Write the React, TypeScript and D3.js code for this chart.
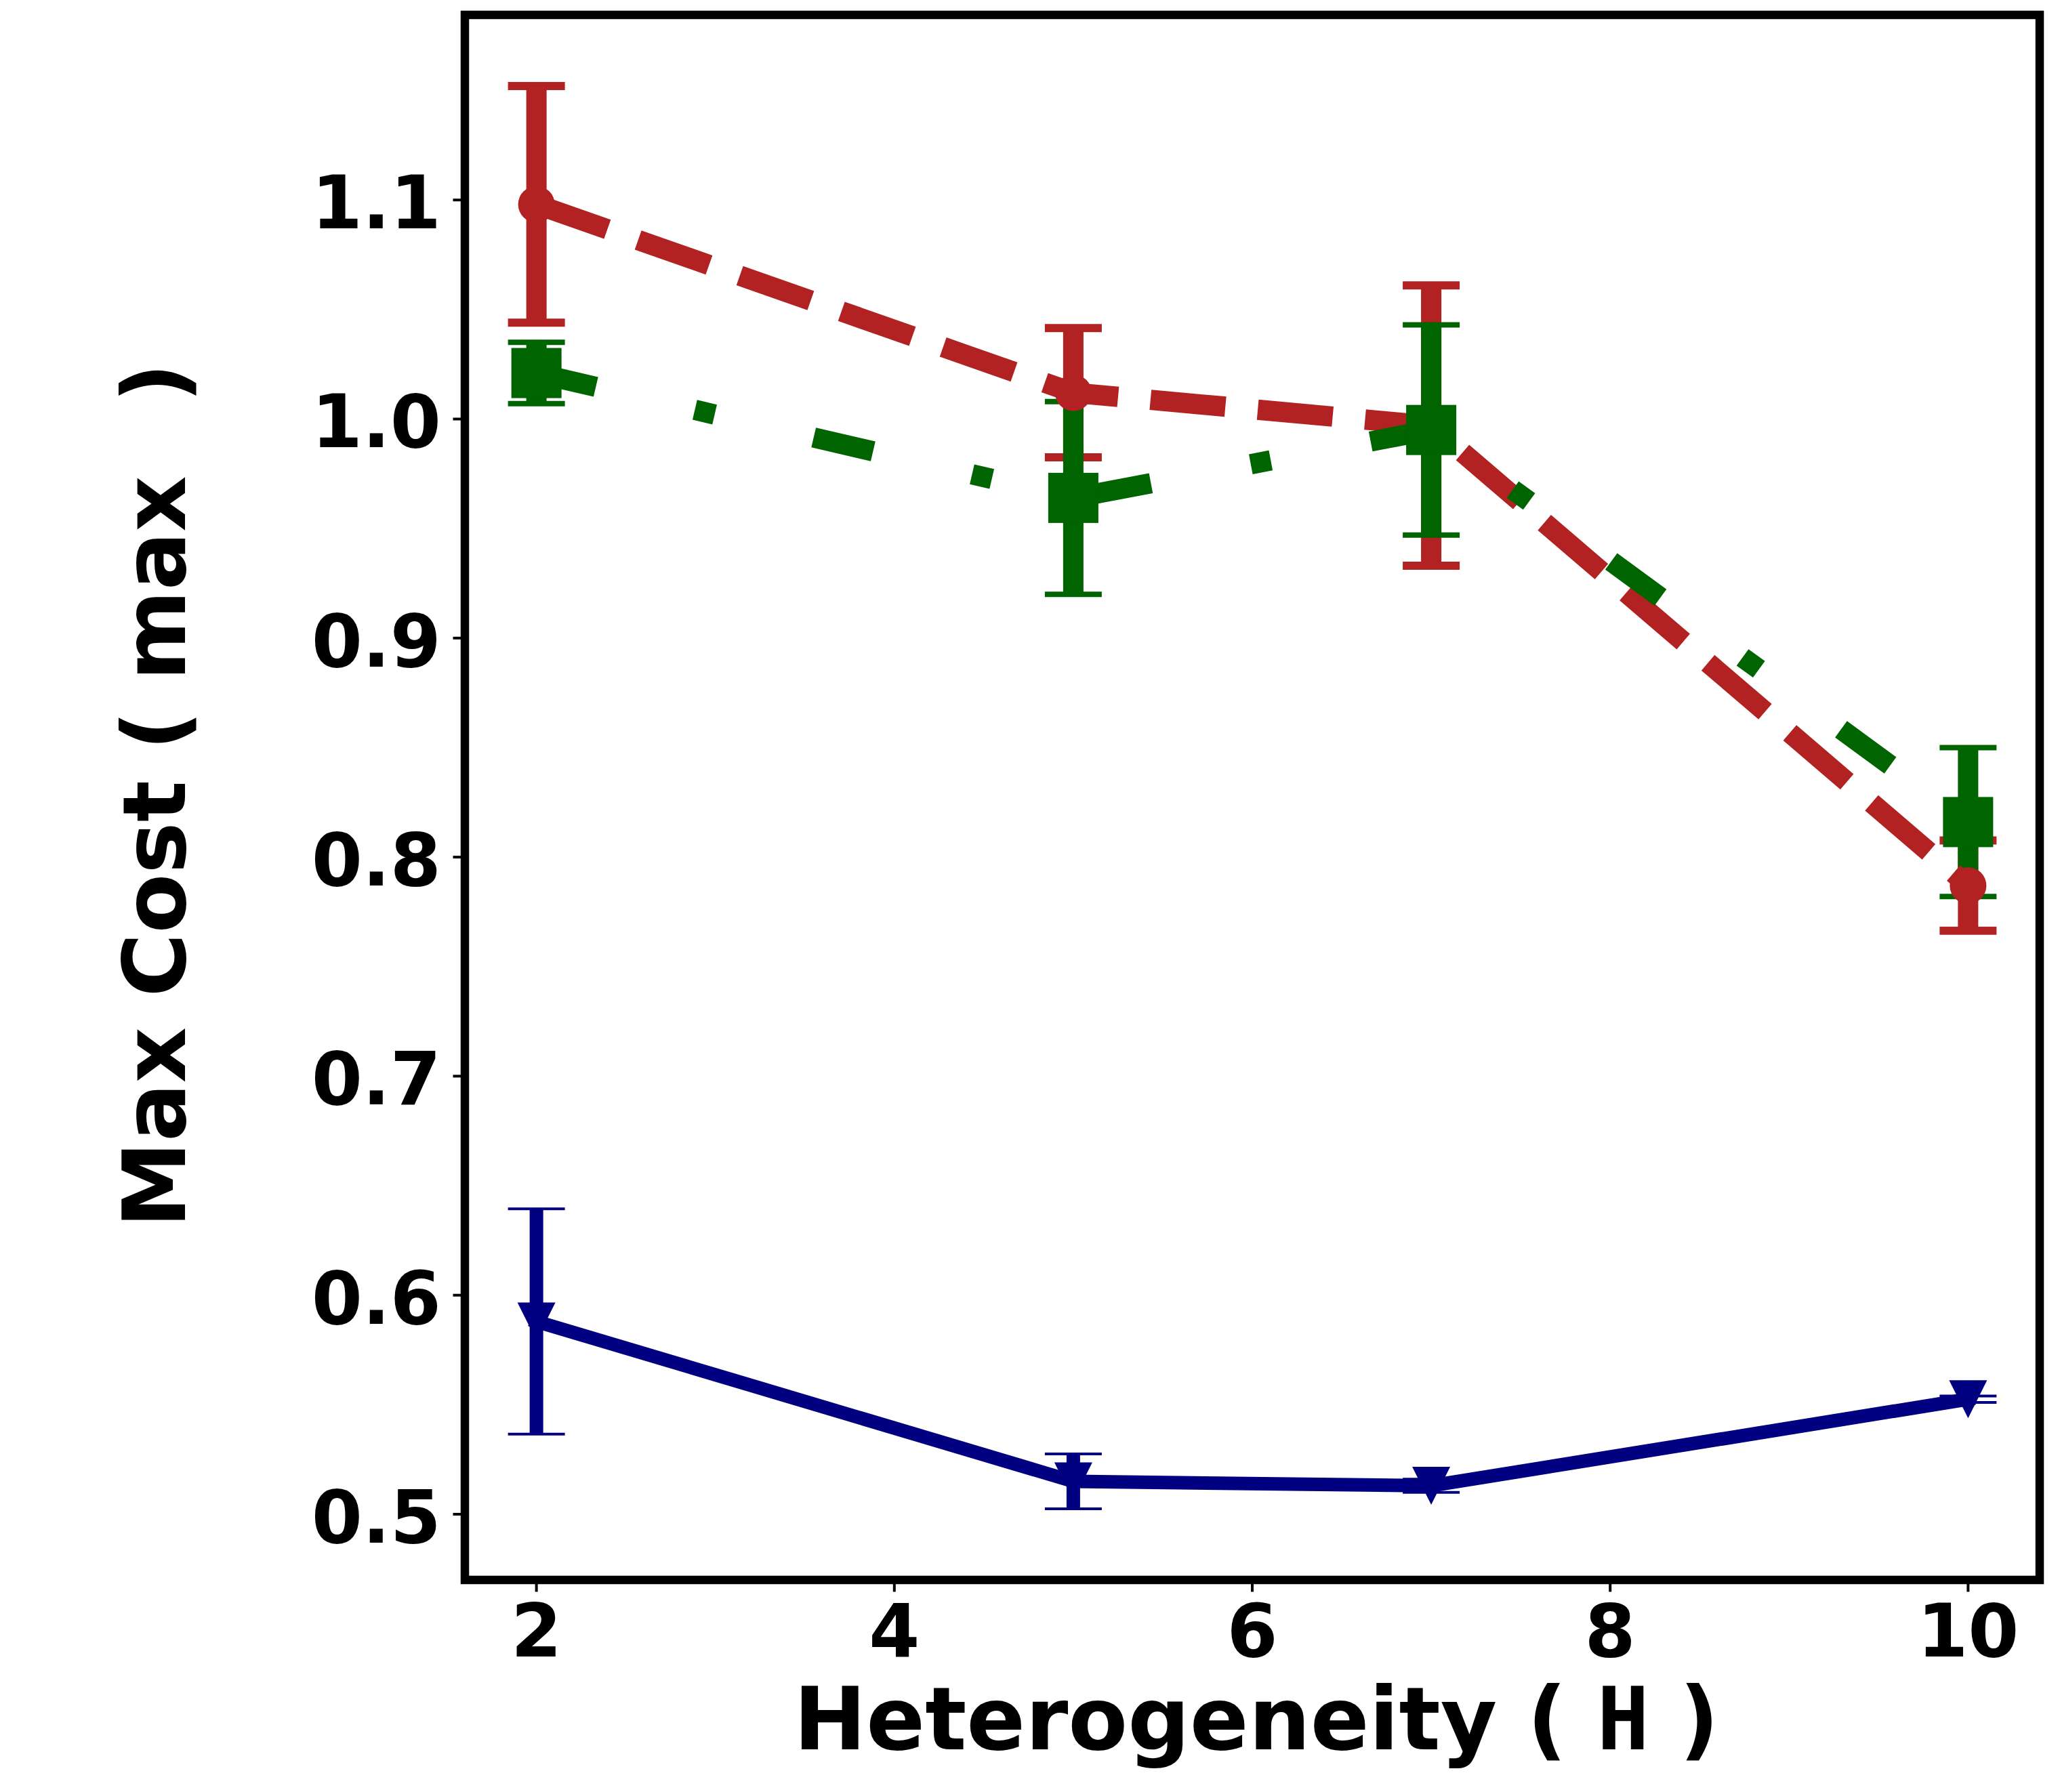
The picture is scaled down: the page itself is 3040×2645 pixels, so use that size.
import { useEffect, useRef } from 'react';
import * as d3 from 'd3';

const WIDTH = 3040;
const HEIGHT = 2645;

const heterogeneity = [2, 5, 7, 10];

const redCost = [1.098, 1.012, 0.997, 0.787];
const redErr = [0.054, 0.0295, 0.064, 0.0206];

const greenCost = [1.021, 0.964, 0.995, 0.816];
const greenErr = [0.014, 0.044, 0.048, 0.034];

const blueCost = [0.588, 0.515, 0.513, 0.5525];
const blueErr = [0.0514, 0.0125, 0.003, 0.0015];

const xTicks = [2, 4, 6, 8, 10];
const yTicks = [0.5, 0.6, 0.7, 0.8, 0.9, 1.0, 1.1];

type Marker = 'circle' | 'square' | 'triangleDown';

interface Series {
  color: string;
  values: number[];
  errors: number[];
  marker: Marker;
  markerSize: number;
  lineWidth: number;
  dash: string | null;
  capThick: number;
}

const series: Series[] = [
  { color: '#b22222', values: redCost, errors: redErr, marker: 'circle', markerSize: 54, lineWidth: 30, dash: '111,48', capThick: 12 },
  { color: '#006400', values: greenCost, errors: greenErr, marker: 'square', markerSize: 74, lineWidth: 30, dash: '90,150,30,150', capThick: 8 },
  { color: '#000080', values: blueCost, errors: blueErr, marker: 'triangleDown', markerSize: 56, lineWidth: 20, dash: null, capThick: 4 },
];

const FONT = "'DejaVu Sans', sans-serif";

export default function App() {
  const svgRef = useRef<SVGSVGElement>(null);

  useEffect(() => {
    if (!svgRef.current) return;
    const svg = d3.select(svgRef.current);
    svg.selectAll('*').remove();

    const plot = { left: 686, right: 3010, top: 22, bottom: 2332 };

    const x = d3.scaleLinear().domain([1.6, 10.4]).range([plot.left, plot.right]);
    const y = d3.scaleLinear().domain([0.47, 1.1845]).range([plot.bottom, plot.top]);

    svg.append('rect').attr('width', WIDTH).attr('height', HEIGHT).attr('fill', '#fff');

    const g = svg.append('g');

    // error bars first (they sit below every data line)
    series.forEach(s => {
      const eb = g.append('g');
      heterogeneity.forEach((h, i) => {
        const lo = s.values[i] - s.errors[i];
        const hi = s.values[i] + s.errors[i];
        eb.append('line')
          .attr('x1', x(h)).attr('x2', x(h))
          .attr('y1', y(lo)).attr('y2', y(hi))
          .attr('stroke', s.color)
          .attr('stroke-width', s.lineWidth);
        [lo, hi].forEach(v => {
          eb.append('line')
            .attr('x1', x(h) - 42).attr('x2', x(h) + 42)
            .attr('y1', y(v)).attr('y2', y(v))
            .attr('stroke', s.color)
            .attr('stroke-width', s.capThick);
        });
      });
    });

    const line = d3.line<number>()
      .x((_, i) => x(heterogeneity[i]))
      .y(d => y(d));

    series.forEach(s => {
      const sg = g.append('g');
      sg.append('path')
        .attr('d', line(s.values))
        .attr('fill', 'none')
        .attr('stroke', s.color)
        .attr('stroke-width', s.lineWidth)
        .attr('stroke-linejoin', 'round')
        .attr('stroke-linecap', s.dash ? 'butt' : 'square')
        .attr('stroke-dasharray', s.dash ?? null);

      heterogeneity.forEach((h, i) => {
        const cx = x(h);
        const cy = y(s.values[i]);
        const m = s.markerSize / 2;
        if (s.marker === 'circle') {
          sg.append('circle').attr('cx', cx).attr('cy', cy).attr('r', m).attr('fill', s.color);
        } else if (s.marker === 'square') {
          sg.append('rect')
            .attr('x', cx - m).attr('y', cy - m)
            .attr('width', s.markerSize).attr('height', s.markerSize)
            .attr('fill', s.color);
        } else {
          sg.append('path')
            .attr('d', `M${cx - m},${cy - m}L${cx + m},${cy - m}L${cx},${cy + m}Z`)
            .attr('fill', s.color);
        }
      });
    });

    // ticks
    const ticks = svg.append('g').attr('stroke', '#000').attr('stroke-width', 4);
    xTicks.forEach(t => {
      ticks.append('line')
        .attr('x1', x(t)).attr('x2', x(t))
        .attr('y1', plot.bottom).attr('y2', plot.bottom + 17.5);
    });
    yTicks.forEach(t => {
      ticks.append('line')
        .attr('x1', plot.left - 17.5).attr('x2', plot.left)
        .attr('y1', y(t)).attr('y2', y(t));
    });

    // frame
    svg.append('rect')
      .attr('x', plot.left).attr('y', plot.top)
      .attr('width', plot.right - plot.left)
      .attr('height', plot.bottom - plot.top)
      .attr('fill', 'none')
      .attr('stroke', '#000')
      .attr('stroke-width', 12.5);

    const labels = svg.append('g')
      .style('font-family', FONT)
      .style('font-weight', 'bold')
      .attr('fill', '#000');

    xTicks.forEach(t => {
      labels.append('text')
        .attr('x', x(t)).attr('y', 2445)
        .attr('text-anchor', 'middle')
        .style('font-size', '108px')
        .text(d3.format('d')(t));
    });
    yTicks.forEach(t => {
      labels.append('text')
        .attr('x', 651).attr('y', y(t) + 42)
        .attr('text-anchor', 'end')
        .style('font-size', '108px')
        .text(d3.format('.1f')(t));
    });

    const xLabel = labels.append('text')
      .attr('x', (plot.left + plot.right) / 2 + 6)
      .attr('y', 2582)
      .attr('text-anchor', 'middle')
      .style('font-size', '128px');
    xLabel.append('tspan').text('Heterogeneity ( ');
    xLabel.append('tspan').style('font-family', "'DejaVu Sans Mono', monospace").text('H');
    xLabel.append('tspan').text(' )');

    const yLabel = labels.append('text')
      .attr('transform', `translate(273,1174) rotate(-90)`)
      .attr('text-anchor', 'middle')
      .style('font-size', '128px');
    yLabel.append('tspan').text('Max Cost ( max');
    yLabel.append('tspan').attr('dx', 108).text(')');
  }, []);

  return (
    <div style={{ position: 'absolute', left: 0, top: 0 }}>
      <svg ref={svgRef} width={WIDTH} height={HEIGHT} style={{ display: 'block' }} />
    </div>
  );
}
